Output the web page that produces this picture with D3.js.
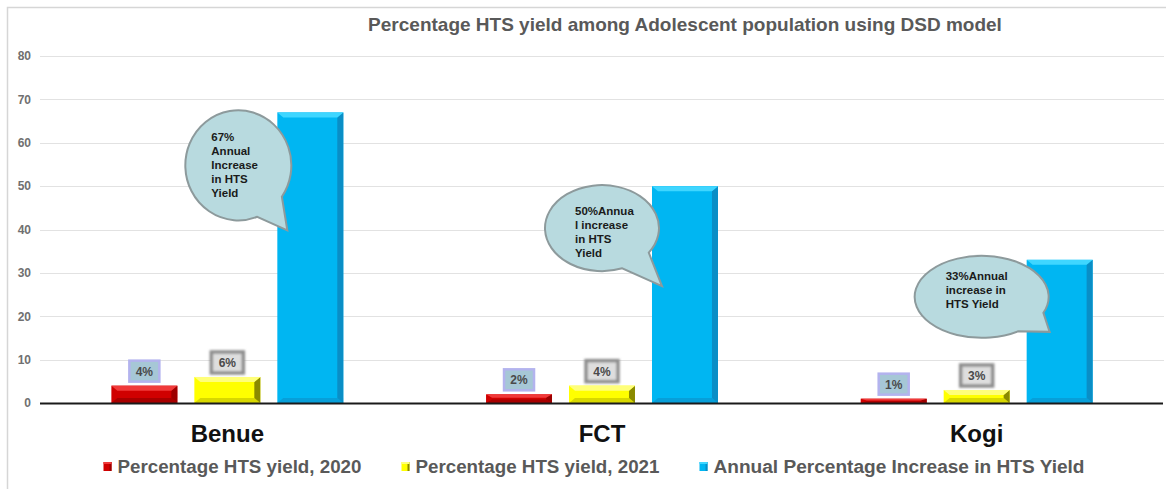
<!DOCTYPE html>
<html>
<head>
<meta charset="utf-8">
<script src="https://cdn.jsdelivr.net/npm/d3@7"></script>
<style>
  html, body { margin: 0; padding: 0; background: #fff; }
  svg { display: block; font-family: "Liberation Sans", Arial, sans-serif; }
</style>
</head>
<body>
<svg id="chart" width="1166" height="489"></svg>
<script>
// ---- data ----
const categories = ["Benue", "FCT", "Kogi"];
const seriesNames = ["Percentage HTS yield, 2020", "Percentage HTS yield, 2021", "Annual Percentage Increase in HTS Yield"];
const yield2020 = [4, 2, 1];
const yield2021 = [6, 4, 3];
const annualIncrease = [67, 50, 33];
const yTicks = [0, 10, 20, 30, 40, 50, 60, 70, 80];
const calloutTexts = [
  ["67%", "Annual", "Increase", "in HTS", "Yield"],
  ["50%Annua", "l increase", "in HTS", "Yield"],
  ["33%Annual", "increase in", "HTS Yield"]
];
const titleText = "Percentage HTS yield among Adolescent population using DSD model";

// ---- styles / layout ----
const seriesStyle = [
  { main: "#d00000", top: "#f03a3a", side: "#9c0000", bottom: "#a80000", labFill: "#a6c7d6", labStroke: "#b3b3ee" },
  { main: "#ffff00", top: "#ffff7a", side: "#8a8a00", bottom: "#d8d800", labFill: "#dedede", labStroke: "#8e8e8e" },
  { main: "#00b6f2", top: "#3fd6ff", side: "#0a8ec6", bottom: "#079fd9" }
];
// callout layout: ellipse center offset from blue bar (left, top), radii, tip offset from center
const calloutLayout = [
  { dx: -39, dy: 53, rx: 53, ry: 55, tx: 49, ty: 65, textX: -27, textY: -24 },
  { dx: -50, dy: 42, rx: 57, ry: 43, tx: 60, ty: 58, textX: -27, textY: -13 },
  { dx: -45, dy: 37, rx: 67, ry: 41, tx: 68, ty: 35, textX: -36, textY: -17 }
];

const svg = d3.select("#chart");
const W = 1166, H = 489;
const plot = { left: 40, right: 1164, top: 56, bottom: 403 };

// frame border
svg.append("path")
  .attr("d", `M7.5,${H} L7.5,7.5 L${W},7.5`)
  .attr("fill", "none").attr("stroke", "#d6d6d6").attr("stroke-width", 1.5);

const x0 = d3.scaleBand().domain(categories).range([plot.left, plot.right])
  .paddingInner(0.381).paddingOuter(0.1905);
const x1 = d3.scaleBand().domain(d3.range(3)).range([0, x0.bandwidth()])
  .paddingInner(0.205).paddingOuter(0);
const y = d3.scaleLinear().domain([0, 80]).range([plot.bottom, plot.top]);

// gridlines
svg.append("g").selectAll("line").data(yTicks.filter(d => d > 0)).join("line")
  .attr("x1", plot.left).attr("x2", plot.right)
  .attr("y1", d => Math.round(y(d)) + 0.5).attr("y2", d => Math.round(y(d)) + 0.5)
  .attr("stroke", "#e2e2e2").attr("stroke-width", 1.2);

// y axis labels
const yAxis = d3.axisLeft(y).tickValues(yTicks).tickSize(0).tickPadding(0);
const gy = svg.append("g").attr("transform", `translate(31,0)`).call(yAxis);
gy.select(".domain").remove();
gy.selectAll("text").attr("font-size", 12).attr("font-weight", "bold")
  .attr("fill", "#707070").attr("font-family", "Liberation Sans, Arial, sans-serif");

// title
svg.append("text").attr("x", 685).attr("y", 31).attr("text-anchor", "middle")
  .attr("font-size", 19).attr("font-weight", "bold").attr("fill", "#595959")
  .text(titleText);

// defs: blur for yellow label frame
const defs = svg.append("defs");
defs.append("filter").attr("id", "soft").attr("x", "-20%").attr("y", "-20%").attr("width", "140%").attr("height", "140%")
  .append("feGaussianBlur").attr("stdDeviation", 0.8);

const seriesValues = [yield2020, yield2021, annualIncrease];

function drawBar(g, xL, w, v, st) {
  const yt = y(v), yb = y(0), h = yb - yt;
  const b = Math.min(5, h / 2.5);
  const s = Math.min(6, w / 8);
  g.append("rect").attr("x", xL).attr("y", yt).attr("width", w).attr("height", h).attr("fill", st.main);
  g.append("path").attr("d", `M${xL},${yb} L${xL + s},${yb - b} L${xL + w - s},${yb - b} L${xL + w},${yb} Z`).attr("fill", st.bottom);
  g.append("path").attr("d", `M${xL + w},${yt} L${xL + w - s},${yt + b} L${xL + w - s},${yb - b} L${xL + w},${yb} Z`).attr("fill", st.side);
  g.append("path").attr("d", `M${xL},${yt} L${xL + w},${yt} L${xL + w - s},${yt + b} L${xL + s},${yt + b} Z`).attr("fill", st.top);
}

const barsG = svg.append("g");
categories.forEach((cat, ci) => {
  seriesValues.forEach((vals, si) => {
    const xL = x0(cat) + x1(si);
    drawBar(barsG, xL, x1.bandwidth(), vals[ci], seriesStyle[si]);
  });
});

// zero axis line
svg.append("line").attr("x1", plot.left).attr("x2", plot.right - 1)
  .attr("y1", y(0) + 0.5).attr("y2", y(0) + 0.5).attr("stroke", "#1a1a1a").attr("stroke-width", 2);

// data labels for first two series
const labG = svg.append("g");
categories.forEach((cat, ci) => {
  [0, 1].forEach(si => {
    const v = seriesValues[si][ci];
    const cx = x0(cat) + x1(si) + x1.bandwidth() / 2;
    const bw = si === 0 ? 30 : 32, bh = 21;
    const by = y(v) - 4 - bh;
    const st = seriesStyle[si];
    if (si === 1) {
      labG.append("rect").attr("x", cx - bw / 2).attr("y", by).attr("width", bw).attr("height", bh)
        .attr("fill", st.labFill).attr("stroke", st.labStroke).attr("stroke-width", 3.5).attr("filter", "url(#soft)");
    } else {
      labG.append("rect").attr("x", cx - bw / 2).attr("y", by).attr("width", bw).attr("height", bh)
        .attr("fill", st.labFill).attr("stroke", st.labStroke).attr("stroke-width", 2.5);
    }
    labG.append("text").attr("x", cx).attr("y", by + bh / 2 + 4.5).attr("text-anchor", "middle")
      .attr("font-size", 12).attr("font-weight", "bold").attr("fill", "#4a4a4a")
      .text(v + "%");
  });
});

// callouts
const calG = svg.append("g");
categories.forEach((cat, ci) => {
  const L = calloutLayout[ci];
  const barLeft = x0(cat) + x1(2);
  const barTop = y(annualIncrease[ci]);
  const cx = barLeft + L.dx, cy = barTop + L.dy;
  const tipX = cx + L.tx, tipY = cy + L.ty;
  const th = Math.atan2((tipY - cy) / L.ry, (tipX - cx) / L.rx);
  const d = 0.3;
  const p1 = [cx + L.rx * Math.cos(th + d), cy + L.ry * Math.sin(th + d)];
  const p2 = [cx + L.rx * Math.cos(th - d), cy + L.ry * Math.sin(th - d)];
  calG.append("path")
    .attr("d", `M${p1[0]},${p1[1]} A${L.rx},${L.ry} 0 1 1 ${p2[0]},${p2[1]} L${tipX},${tipY} Z`)
    .attr("fill", "#b8dadf").attr("stroke", "#8d9a9c").attr("stroke-width", 2);
  const t = calG.append("text").attr("font-size", 11.5).attr("font-weight", "bold").attr("fill", "#1a1a1a");
  calloutTexts[ci].forEach((line, li) => {
    t.append("tspan").attr("x", cx + L.textX).attr("y", cy + L.textY + li * 14).text(line);
  });
});

// category labels
svg.append("g").selectAll("text").data(categories).join("text")
  .attr("x", d => x0(d) + x0.bandwidth() / 2).attr("y", 442)
  .attr("text-anchor", "middle").attr("font-size", 24).attr("font-weight", "bold").attr("fill", "#111")
  .text(d => d);

// legend
const legG = svg.append("g");
const legendTextLen = [244, 244, 371];
const gap = 40, sw = 8, sgap = 6;
const totalW = d3.sum(legendTextLen) + 3 * (sw + sgap) + 2 * gap;
let lx = 594 - totalW / 2;
seriesNames.forEach((name, si) => {
  const st = seriesStyle[si];
  legG.append("rect").attr("x", lx).attr("y", 462).attr("width", sw).attr("height", 9).attr("fill", st.main);
  legG.append("rect").attr("x", lx + sw - 2).attr("y", 462).attr("width", 2).attr("height", 9).attr("fill", st.side);
  legG.append("rect").attr("x", lx).attr("y", 462).attr("width", sw).attr("height", 2).attr("fill", st.top);
  legG.append("text").attr("x", lx + sw + sgap).attr("y", 473)
    .attr("font-size", 18).attr("font-weight", "bold").attr("fill", "#595959")
    .attr("textLength", legendTextLen[si]).attr("lengthAdjust", "spacingAndGlyphs")
    .text(name);
  lx += sw + sgap + legendTextLen[si] + gap;
});
</script>
</body>
</html>
